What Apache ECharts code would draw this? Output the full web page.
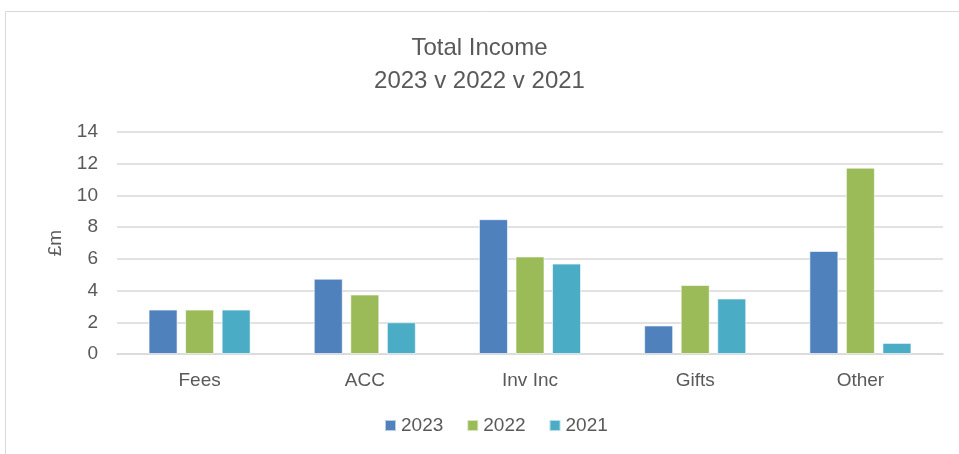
<!DOCTYPE html>
<html>
<head>
<meta charset="utf-8">
<script src="https://cdn.jsdelivr.net/npm/echarts@6/dist/echarts.min.js"></script>
<style>
  html, body { margin: 0; padding: 0; background: #fff; }
  #chart { width: 959px; height: 454px; }
</style>
</head>
<body>
<div id="chart"></div>
<script>
// categories and values (£m)
var categories = ['Fees', 'ACC', 'Inv Inc', 'Gifts', 'Other'];
var years = ['2023', '2022', '2021'];
var income2023 = [2.8, 4.75, 8.5, 1.8, 6.5];
var income2022 = [2.8, 3.75, 6.15, 4.35, 11.75];
var income2021 = [2.8, 2.0, 5.7, 3.5, 0.7];
var colors = ['#4f81bd', '#9bbb59', '#4bacc6'];

var chart = echarts.init(document.getElementById('chart'));

function barSeries(name, data, color) {
  return {
    name: name,
    type: 'bar',
    data: data,
    barWidth: 29,
    barGap: '26%',
    itemStyle: {
      color: color,
      borderColor: 'rgba(255,255,255,0.6)',
      borderWidth: 1
    }
  };
}

chart.setOption({
  textStyle: { fontFamily: 'Liberation Sans, Arial, sans-serif' },
  animation: false,
  graphic: [{
    type: 'rect',
    shape: { x: 5.5, y: 11.5, width: 1000, height: 600 },
    style: { fill: 'none', stroke: '#d9d9d9', lineWidth: 1 }
  }],
  title: {
    text: 'Total Income\n2023 v 2022 v 2021',
    left: 'center',
    top: 27,
    textStyle: {
      fontSize: 24,
      fontWeight: 'normal',
      color: '#595959',
      lineHeight: 33
    }
  },
  legend: {
    data: years,
    bottom: 14,
    left: 379,
    itemWidth: 11,
    itemHeight: 11,
    itemGap: 23,
    icon: 'rect',
    textStyle: { fontSize: 19, color: '#595959' }
  },
  grid: {
    left: 117,
    right: 16,
    top: 132,
    bottom: 100
  },
  xAxis: {
    type: 'category',
    data: categories,
    axisLine: { lineStyle: { color: '#d9d9d9', width: 1.5 } },
    axisTick: { show: false },
    axisLabel: { fontSize: 19, color: '#595959', margin: 17 }
  },
  yAxis: {
    type: 'value',
    min: 0,
    max: 14,
    interval: 2,
    name: '£m',
    nameLocation: 'middle',
    nameRotate: 90,
    nameGap: 52,
    nameTextStyle: { fontSize: 19, color: '#595959' },
    axisLine: { show: false },
    axisTick: { show: false },
    axisLabel: { fontSize: 19, color: '#595959', margin: 19 },
    splitLine: { lineStyle: { color: '#d9d9d9', width: 1.5 } }
  },
  series: [
    barSeries(years[0], income2023, colors[0]),
    barSeries(years[1], income2022, colors[1]),
    barSeries(years[2], income2021, colors[2])
  ]
});
</script>
</body>
</html>
